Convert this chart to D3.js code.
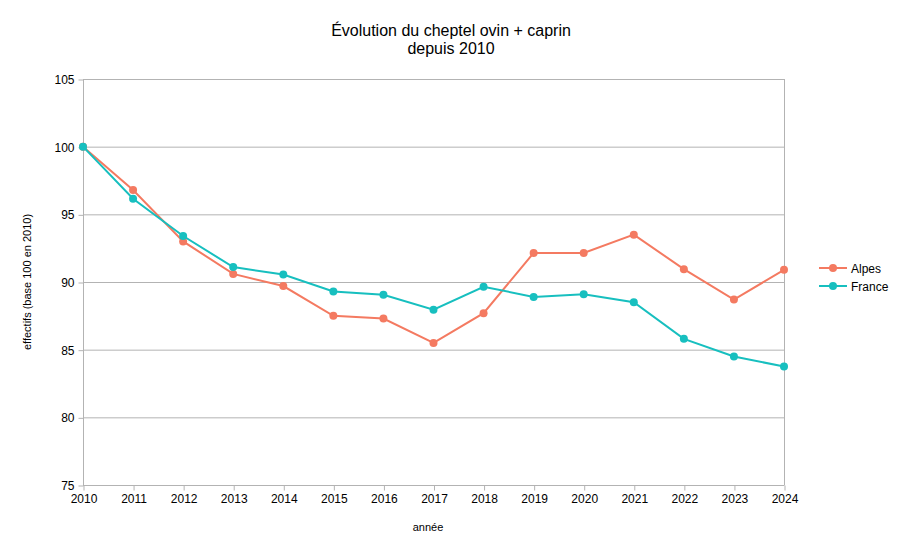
<!DOCTYPE html>
<html>
<head>
<meta charset="utf-8">
<script src="https://cdn.jsdelivr.net/npm/d3@7"></script>
<style>
  body { margin: 0; background: #fff; }
  text { font-family: "Liberation Sans", Arial, sans-serif; fill: #000; }
</style>
</head>
<body>
<svg id="chart" width="902" height="555"></svg>
<script>
'use strict';

const years = [2010, 2011, 2012, 2013, 2014, 2015, 2016, 2017, 2018, 2019, 2020, 2021, 2022, 2023, 2024];
const alpes = [100, 96.8, 93.0, 90.6, 89.7, 87.5, 87.3, 85.5, 87.7, 92.15, 92.15, 93.5, 90.95, 88.7, 90.9];
const france = [100, 96.15, 93.4, 91.1, 90.55, 89.3, 89.05, 87.95, 89.65, 88.9, 89.1, 88.5, 85.8, 84.5, 83.75];
const yTicks = [75, 80, 85, 90, 95, 100, 105];

const series = [
    { name: "Alpes", values: alpes, color: "#f47a61" },
    { name: "France", values: france, color: "#17bfbf" },
];

const svg = d3.select("#chart");
const plot = { left: 83, right: 784, top: 79, bottom: 485 };

const x = d3.scaleLinear().domain([2010, 2024]).range([plot.left, plot.right]);
const y = d3.scaleLinear().domain([75, 105]).range([plot.bottom, plot.top]);

// grid lines
svg.append("g")
    .selectAll("line")
    .data(yTicks)
    .join("line")
    .attr("x1", plot.left)
    .attr("x2", plot.right)
    .attr("y1", (d) => y(d) + 0.5)
    .attr("y2", (d) => y(d) + 0.5)
    .attr("stroke", "#b3b3b3");

// right border
svg.append("line")
    .attr("x1", plot.right + 0.5).attr("x2", plot.right + 0.5)
    .attr("y1", plot.top).attr("y2", plot.bottom)
    .attr("stroke", "#b3b3b3");

// y axis
const yAxis = svg.append("g")
    .attr("transform", `translate(${plot.left + 0.5},0.5)`)
    .call(d3.axisLeft(y).tickValues(yTicks).tickSize(5).tickPadding(4));
yAxis.select(".domain").attr("stroke", "#b3b3b3").attr("d", `M0,${plot.top}V${plot.bottom}`);
yAxis.selectAll(".tick line").attr("stroke", "#b3b3b3");
yAxis.selectAll(".tick text")
    .attr("font-size", 12)
    .attr("font-family", "Liberation Sans, Arial, sans-serif")
    .attr("fill", "#000");

// x axis
const xAxis = svg.append("g")
    .attr("transform", `translate(0.5,${plot.bottom + 0.5})`)
    .call(d3.axisBottom(x).tickValues(years).tickFormat(d3.format("d")).tickSize(5).tickPadding(4));
xAxis.select(".domain").attr("stroke", "#b3b3b3").attr("d", `M${plot.left},0H${plot.right}`);
xAxis.selectAll(".tick line").attr("stroke", "#b3b3b3");
xAxis.selectAll(".tick text")
    .attr("font-size", 12)
    .attr("font-family", "Liberation Sans, Arial, sans-serif")
    .attr("fill", "#000");

// lines and markers
const line = d3.line()
    .x((d, i) => x(years[i]))
    .y((d) => y(d));

series.forEach((s) => {
    svg.append("path")
        .datum(s.values)
        .attr("fill", "none")
        .attr("stroke", s.color)
        .attr("stroke-width", 2)
        .attr("d", line);

    svg.append("g")
        .selectAll("circle")
        .data(s.values)
        .join("circle")
        .attr("cx", (d, i) => x(years[i]))
        .attr("cy", (d) => y(d))
        .attr("r", 4)
        .attr("fill", s.color);
});

// title
const title = svg.append("text")
    .attr("text-anchor", "middle")
    .attr("font-size", 16);
title.append("tspan").attr("x", 451).attr("y", 36).text("Évolution du cheptel ovin + caprin");
title.append("tspan").attr("x", 451).attr("y", 54).text("depuis 2010");

// axis titles
svg.append("text")
    .attr("x", 428)
    .attr("y", 531)
    .attr("text-anchor", "middle")
    .attr("font-size", 11)
    .text("année");

svg.append("text")
    .attr("transform", "translate(31,282) rotate(-90)")
    .attr("text-anchor", "middle")
    .attr("font-size", 11)
    .text("effectifs (base 100 en 2010)");

// legend
const legend = svg.append("g");
series.forEach((s, i) => {
    const ly = 268 + i * 18;
    legend.append("line")
        .attr("x1", 819).attr("x2", 847)
        .attr("y1", ly).attr("y2", ly)
        .attr("stroke", s.color).attr("stroke-width", 2);
    legend.append("circle")
        .attr("cx", 833).attr("cy", ly).attr("r", 4)
        .attr("fill", s.color);
    legend.append("text")
        .attr("x", 851).attr("y", ly + 4.5)
        .attr("font-size", 12)
        .text(s.name);
});
</script>
</body>
</html>
